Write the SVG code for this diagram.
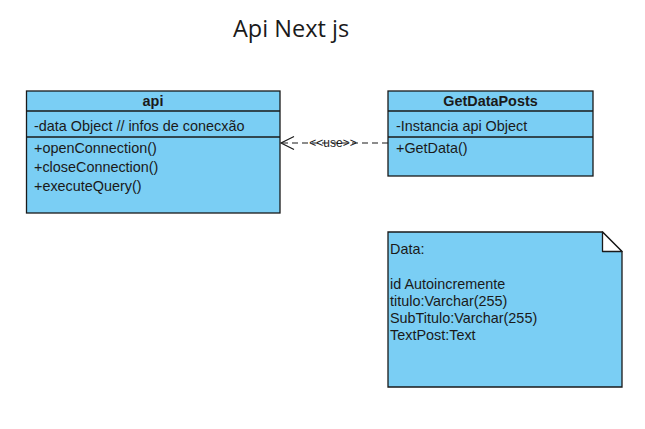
<svg xmlns="http://www.w3.org/2000/svg" width="645" height="429" viewBox="0 0 645 429">
<style>
.box{fill:#7ACEF4;stroke:#1a1a1a;stroke-width:1.3}
.sep{stroke:#1a1a1a;stroke-width:1.3;fill:none}
.t{font-family:"Liberation Sans",Arial,sans-serif;font-size:14.4px;fill:#1a1a1a}
.h{font-family:"Liberation Sans",Arial,sans-serif;font-size:14.4px;font-weight:bold;fill:#1a1a1a;text-anchor:middle}
.lbl{font-family:"Liberation Sans",Arial,sans-serif;font-size:12px;fill:#1a1a1a;text-anchor:middle}
.title{font-family:"Open Sans",sans-serif;font-size:23.5px;fill:#1a1a1a}
</style>
<defs>
<marker id="open" markerWidth="16" markerHeight="16" refX="14" refY="8" orient="auto" markerUnits="userSpaceOnUse">
<path d="M1,1.5 L14,8 L1,14.5" fill="none" stroke="#1a1a1a" stroke-width="1.2"/>
</marker>
</defs>
<rect width="645" height="429" fill="#ffffff"/>
<text class="title" x="233" y="37">Api Next js</text>
<g id="connectors">
<line x1="388" y1="143" x2="281" y2="143" stroke="#1a1a1a" stroke-width="1.2" stroke-dasharray="6,4" marker-end="url(#open)"/>
<text class="lbl" x="333" y="147">&lt;&lt;use&gt;&gt;</text>
</g>
<g id="api">
<rect class="box" x="26.5" y="91" width="253.5" height="122"/>
<line class="sep" x1="26.5" y1="111" x2="280" y2="111"/>
<line class="sep" x1="26.5" y1="137" x2="280" y2="137"/>
<text class="h" x="153" y="106">api</text>
<text class="t" x="34" y="131">-data Object // infos de conecxão</text>
<text class="t" x="34" y="152.5">+openConnection()</text>
<text class="t" x="34" y="171.5">+closeConnection()</text>
<text class="t" x="34" y="191">+executeQuery()</text>
</g>
<g id="GetDataPosts">
<rect class="box" x="388" y="91" width="205" height="85"/>
<line class="sep" x1="388" y1="111" x2="593" y2="111"/>
<line class="sep" x1="388" y1="137" x2="593" y2="137"/>
<text class="h" x="490.5" y="106">GetDataPosts</text>
<text class="t" x="396" y="131">-Instancia api Object</text>
<text class="t" x="396" y="152.5">+GetData()</text>
</g>
<g id="note">
<path class="box" d="M388,232 L602.5,232 L622,251.5 L622,387 L388,387 Z"/>
<path d="M602.5,232 L602.5,251.5 L622,251.5 Z" fill="#ffffff" stroke="#1a1a1a" stroke-width="1.3" stroke-linejoin="round"/>
<text class="t" x="390" y="254">Data:</text>
<text class="t" x="390" y="289">id Autoincremente</text>
<text class="t" x="390" y="306">titulo:Varchar(255)</text>
<text class="t" x="390" y="323">SubTitulo:Varchar(255)</text>
<text class="t" x="390" y="340">TextPost:Text</text>
</g>
</svg>
